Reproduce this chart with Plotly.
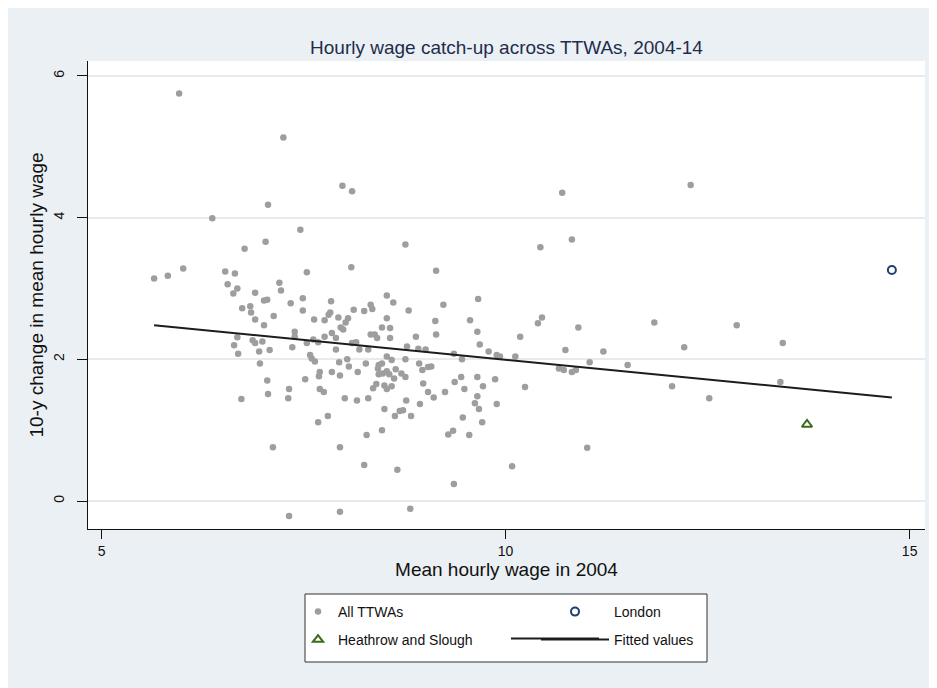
import plotly.graph_objects as go

# ---------------- data ----------------
ttwa_x = [
    5.65, 5.82, 6.01, 5.96, 6.37, 6.77, 7.03, 7.06, 6.53, 6.65,
    6.56, 6.68, 6.63, 6.90, 7.01, 7.05, 6.74, 6.84, 6.85, 6.90,
    7.01, 6.68, 6.64, 6.69, 6.87, 6.90, 6.99, 6.95, 6.96, 7.05,
    7.06, 6.73, 7.08,
    7.25, 7.46, 7.98, 8.10, 7.20, 7.22, 7.54, 8.09, 7.34, 7.49,
    7.49, 7.13, 7.63, 7.76, 7.84, 7.83, 7.81, 7.93, 8.05, 8.02,
    7.96, 7.99, 8.12, 8.25, 8.33, 8.35, 8.53, 8.61, 8.53, 8.47,
    8.57, 7.39, 7.39, 7.36, 7.54, 7.62, 7.68, 7.76, 7.85, 7.90,
    7.90, 8.10, 8.15, 8.19, 8.30, 8.33, 8.38, 8.41, 8.57, 7.58,
    7.60, 7.64, 7.94, 8.04, 8.06, 8.27, 8.43, 8.47, 8.42, 8.53,
    8.59, 7.70, 7.69, 7.85, 7.95, 8.17, 7.52, 8.43, 8.48, 8.53,
    8.56, 8.64, 8.62, 7.32, 7.31, 7.70, 7.75, 8.01, 8.16, 8.30,
    8.36, 8.40, 8.50, 8.53, 8.59, 8.50, 8.63, 7.80, 7.68, 8.28,
    8.47, 7.12, 7.95, 8.25, 8.66, 7.32, 7.95,
    8.76, 9.14, 9.23, 9.66, 8.80, 9.13, 9.56, 9.65, 8.89, 9.14,
    10.18, 9.68, 8.78, 8.92, 9.01, 9.36, 8.76, 9.46, 9.79, 9.89,
    9.93, 10.12, 8.93, 8.97, 9.04, 9.08, 8.71, 8.76, 8.98, 9.37,
    9.45, 9.65, 9.87, 9.72, 9.49, 9.04, 9.11, 9.25, 10.24, 9.65,
    9.62, 9.67, 9.89, 8.77, 8.94, 8.73, 8.69, 8.83, 9.47, 9.71,
    9.29, 9.35, 9.55, 10.08, 9.36, 8.82,
    10.70, 12.29, 10.43, 10.82, 10.40, 10.45, 10.90, 10.74, 11.21, 11.04,
    11.51, 11.84, 12.21, 12.86, 13.43, 13.40, 12.06, 12.52, 10.66, 10.72,
    10.82, 10.87, 11.01,
]
ttwa_y = [
    3.14, 3.18, 3.28, 5.75, 3.99, 3.56, 3.66, 4.18, 3.24, 3.21,
    3.06, 3.00, 2.93, 2.94, 2.83, 2.84, 2.72, 2.75, 2.66, 2.56,
    2.48, 2.31, 2.20, 2.08, 2.27, 2.23, 2.25, 2.11, 1.94, 1.70,
    1.51, 1.44, 2.13,
    5.13, 3.83, 4.45, 4.37, 3.08, 2.97, 3.23, 3.30, 2.79, 2.86,
    2.69, 2.61, 2.56, 2.55, 2.82, 2.66, 2.63, 2.59, 2.58, 2.52,
    2.45, 2.42, 2.70, 2.68, 2.77, 2.71, 2.90, 2.80, 2.58, 2.45,
    2.44, 2.39, 2.32, 2.17, 2.23, 2.28, 2.24, 2.32, 2.37, 2.30,
    2.14, 2.23, 2.24, 2.14, 2.14, 2.35, 2.35, 2.30, 2.30, 2.06,
    2.01, 1.97, 1.96, 2.00, 1.90, 1.94, 1.92, 1.94, 1.87, 2.04,
    1.99, 1.82, 1.76, 1.82, 1.77, 1.82, 1.72, 1.79, 1.80, 1.83,
    1.79, 1.86, 1.73, 1.58, 1.45, 1.58, 1.54, 1.45, 1.42, 1.45,
    1.59, 1.65, 1.63, 1.58, 1.62, 1.30, 1.20, 1.20, 1.11, 0.93,
    1.00, 0.76, 0.76, 0.51, 0.44, -0.21, -0.15,
    3.62, 3.25, 2.77, 2.85, 2.69, 2.54, 2.55, 2.39, 2.32, 2.35,
    2.32, 2.21, 2.18, 2.15, 2.14, 2.08, 2.00, 2.00, 2.11, 2.06,
    2.04, 2.04, 1.94, 1.85, 1.89, 1.90, 1.80, 1.75, 1.66, 1.68,
    1.75, 1.75, 1.72, 1.62, 1.58, 1.54, 1.46, 1.54, 1.61, 1.48,
    1.38, 1.30, 1.37, 1.42, 1.37, 1.28, 1.27, 1.20, 1.18, 1.11,
    0.94, 0.99, 0.93, 0.49, 0.24, -0.11,
    4.35, 4.46, 3.58, 3.69, 2.51, 2.59, 2.45, 2.13, 2.11, 1.96,
    1.92, 2.52, 2.17, 2.48, 2.23, 1.68, 1.62, 1.45, 1.87, 1.85,
    1.82, 1.85, 0.75,
]
london_x = [14.78]
london_y = [3.26]
heathrow_x = [13.73]
heathrow_y = [1.08]

fit_intercept = 3.111
fit_slope = -0.1117

x_ticks = [5, 10, 15]
y_ticks = [0, 2, 4, 6]

title_text = "Hourly wage catch-up across TTWAs, 2004-14"
x_title = "Mean hourly wage in 2004"
y_title = "10-y change in mean hourly wage"

assert len(ttwa_x) == len(ttwa_y)

# fitted line over the data range
all_x = ttwa_x + heathrow_x + london_x
fit_x = [min(all_x), max(all_x)]
fit_y = [fit_intercept + fit_slope * v for v in fit_x]

# ---------------- layout geometry (figure pixels; page has an 8px body margin) ----------------
W, H = 929, 680
ML, MR, MT, MB = 80, 12, 53, 159
PW = W - ML - MR
PH = H - MT - MB
OFF = 8  # page offset of the figure


def fx(px):  # page x -> paper
    return (px - OFF - ML) / PW


def fy(py):  # page y -> paper
    return (H - MB - (py - OFF)) / PH


FONT = "Liberation Sans, Arial, Helvetica, sans-serif"
BG = "#eaf0f3"
GRAY = "#9e9e9e"
NAVY = "#1f3f70"
GREEN = "#3b6b1c"
LINE = "#1c1c1c"

fig = go.Figure()

fig.add_trace(go.Scatter(
    x=ttwa_x, y=ttwa_y, mode="markers", name="All TTWAs",
    marker=dict(color=GRAY, size=6.5, line=dict(width=0)),
    legend="legend",
))
fig.add_trace(go.Scatter(
    x=london_x, y=london_y, mode="markers", name="London",
    marker=dict(symbol="circle-open", color=NAVY, size=8, line=dict(width=2, color=NAVY)),
    legend="legend3",
))
fig.add_trace(go.Scatter(
    x=heathrow_x, y=heathrow_y, mode="markers", name="Heathrow and Slough",
    marker=dict(symbol="triangle-up-open", color=GREEN, size=9, line=dict(width=2, color=GREEN)),
    legend="legend2",
))
fig.add_trace(go.Scatter(
    x=fit_x, y=fit_y, mode="lines", name="Fitted values",
    line=dict(color=LINE, width=2),
    legend="legend4",
))

leg_common = dict(bgcolor="rgba(0,0,0,0)", borderwidth=0, xanchor="left", yanchor="middle",
                  font=dict(family=FONT, size=14, color="#111111"))

fig.update_layout(
    width=W, height=H,
    margin=dict(l=ML, r=MR, t=MT, b=MB, autoexpand=False),
    paper_bgcolor=BG,
    plot_bgcolor="white",
    font=dict(family=FONT, color="#111111"),
    title=dict(text=title_text, x=0.5, xref="paper", xanchor="center",
               y=1 - (47 - OFF) / H, yref="container", yanchor="middle",
               font=dict(family=FONT, size=19, color="#1f2d4d")),
    xaxis=dict(range=[4.832, 15.19], tickvals=x_ticks, ticks="outside", ticklen=9,
               tickcolor="#111111", tickwidth=1, showline=True, linecolor="#111111",
               linewidth=1, showgrid=False, zeroline=False, automargin=False,
               tickfont=dict(size=14, color="#111111"),
               title=dict(text=x_title, font=dict(size=19, color="#111111"), standoff=4)),
    yaxis=dict(range=[-0.395, 6.21], tickvals=y_ticks, ticks="outside", ticklen=10,
               tickcolor="#111111", tickwidth=1, showline=True, linecolor="#111111",
               linewidth=1, showgrid=True, gridcolor="#e4ecef", gridwidth=1.5,
               zeroline=False, automargin=False, tickangle=-90, ticklabelstandoff=7,
               tickfont=dict(size=14, color="#111111"),
               title=dict(text=y_title, font=dict(size=19, color="#111111"), standoff=2)),
    legend=dict(x=fx(298), y=fy(612), itemwidth=30, **leg_common),
    legend2=dict(x=fx(298), y=fy(640), itemwidth=30, **leg_common),
    legend3=dict(x=fx(536), y=fy(612), itemwidth=68, **leg_common),
    legend4=dict(x=fx(536), y=fy(640), itemwidth=68, **leg_common),
    shapes=[
        # legend box
        dict(type="rect", xref="paper", yref="paper", x0=fx(305), x1=fx(707),
             y0=fy(662), y1=fy(594), fillcolor="white", line=dict(color="#333333", width=1),
             layer="below"),
        # longer line sample for the fitted-values key
        dict(type="line", xref="paper", yref="paper", x0=fx(511), x1=fx(599),
             y0=fy(638.5), y1=fy(638.5), line=dict(color=LINE, width=2), layer="above"),
    ],
    showlegend=True,
)

fig.write_html("out.html")
